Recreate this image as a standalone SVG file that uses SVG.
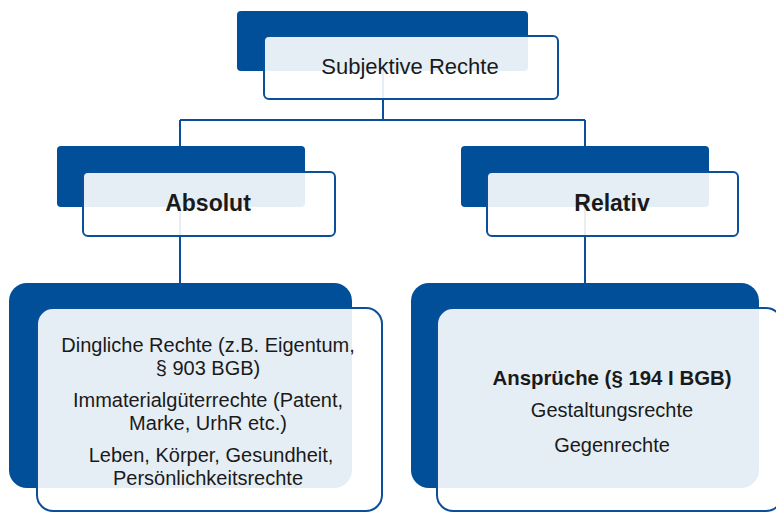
<svg xmlns="http://www.w3.org/2000/svg" width="776" height="512" viewBox="0 0 776 512">
<style>
.back{fill:#004f98}
.front{fill:#ffffff;fill-opacity:0.9;stroke:#0b4f9b;stroke-width:2}
.conn{stroke:#0b4f9b;stroke-width:2;fill:none}
text{font-family:"Liberation Sans",Arial,sans-serif;fill:#1a1a1a;text-anchor:middle}
.t{font-size:22px}
.b{font-size:23px;font-weight:bold}
.s{font-size:20px}
.sb{font-size:20.4px;font-weight:bold}
</style>
<rect width="776" height="512" fill="#ffffff"/>
<g id="connectors">
<path class="conn" d="M383 71 V120 M180 120 H585 M180 120 V283 M585 120 V283"/>
</g>
<g id="subjektive">
<rect class="back" x="237" y="11" width="291" height="60" rx="4"/>
<rect class="front" x="264" y="36" width="294" height="63" rx="5"/>
<text class="t" x="410" y="74">Subjektive Rechte</text>
</g>
<g id="absolut">
<rect class="back" x="57" y="146" width="248" height="61" rx="4"/>
<rect class="front" x="83" y="172" width="252" height="64" rx="5"/>
<text class="b" x="208" y="211">Absolut</text>
</g>
<g id="relativ">
<rect class="back" x="461" y="146" width="248" height="61" rx="4"/>
<rect class="front" x="487" y="172" width="251" height="64" rx="5"/>
<text class="b" x="612" y="211">Relativ</text>
</g>
<g id="absolut-inhalt">
<rect class="back" x="9" y="283" width="343" height="205" rx="18"/>
<rect class="front" x="37" y="308" width="345" height="203" rx="16"/>
<text class="s" x="208" y="352">Dingliche Rechte (z.B. Eigentum,</text>
<text class="s" x="208" y="375">§ 903 BGB)</text>
<text class="s" x="208" y="407">Immaterialgüterrechte (Patent,</text>
<text class="s" x="208" y="429.5">Marke, UrhR etc.)</text>
<text class="s" x="211" y="462">Leben, Körper, Gesundheit,</text>
<text class="s" x="208" y="484.5">Persönlichkeitsrechte</text>
</g>
<g id="relativ-inhalt">
<rect class="back" x="411" y="283" width="348" height="205" rx="18"/>
<rect class="front" x="437" y="308" width="345" height="203" rx="16"/>
<text class="sb" x="612" y="385">Ansprüche (§ 194 I BGB)</text>
<text class="s" x="612" y="417">Gestaltungsrechte</text>
<text class="s" x="612" y="452">Gegenrechte</text>
</g>
</svg>
